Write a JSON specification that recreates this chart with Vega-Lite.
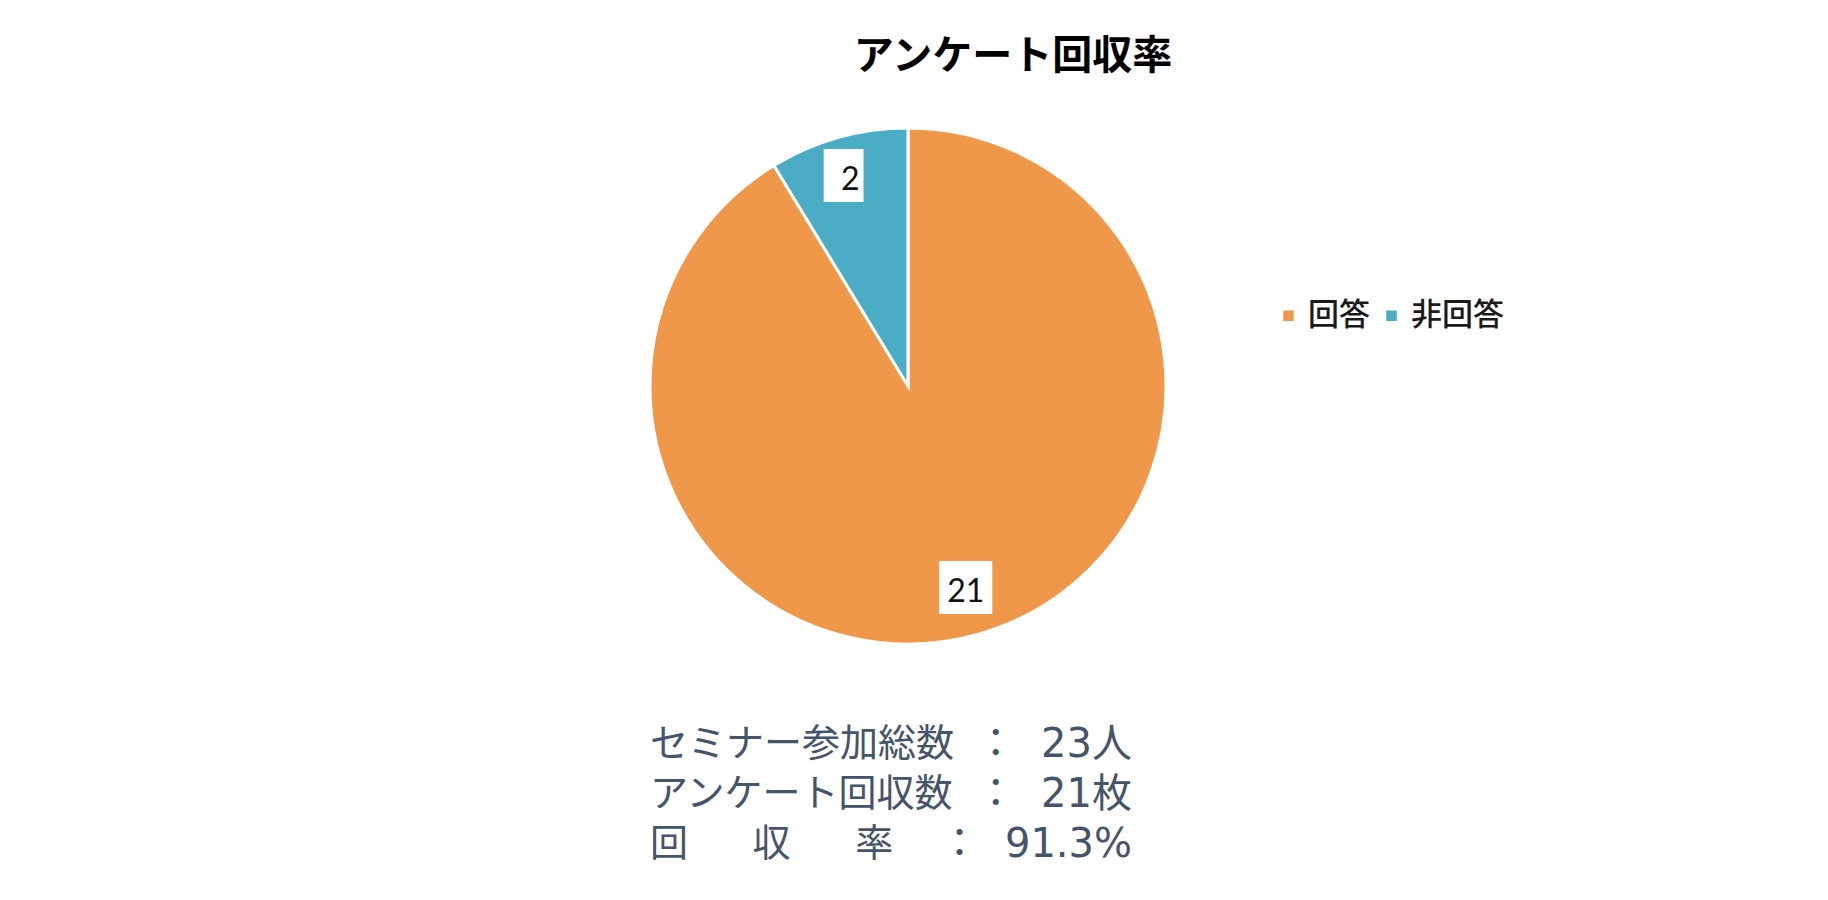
{
  "$schema": "https://vega.github.io/schema/vega-lite/v6.json",
  "background": "white",
  "padding": {"left": 644, "top": 37, "right": 0, "bottom": 0},
  "config": {"view": {"stroke": null}, "font": "Noto Sans CJK JP"},
  "spacing": 70,
  "vconcat": [
    {
      "title": {"text": "アンケート回収率", "fontSize": 40, "fontWeight": "bold", "color": "#000000", "font": "Noto Sans CJK JP", "dx": 105, "offset": 45},
      "width": 516,
      "height": 516,
      "data": {"values": [
        {"回答状況": "回答", "人数": 21},
        {"回答状況": "非回答", "人数": 2}
      ]},
      "encoding": {
        "theta": {"field": "人数", "type": "quantitative", "stack": true},
        "order": {"field": "回答状況", "type": "ordinal", "sort": "ascending"},
        "color": {
          "field": "回答状況", "type": "nominal",
          "scale": {"domain": ["回答", "非回答"], "range": ["#F0984A", "#4BACC6"]},
          "legend": {
            "title": null, "orient": "none", "direction": "horizontal",
            "legendX": 623, "legendY": 172,
            "symbolType": "square", "symbolSize": 110, "symbolStrokeWidth": 0,
            "labelFontSize": 31, "labelColor": "#1a1a1a", "labelFont": "Noto Sans CJK JP", "labelFontWeight": 500,
            "labelOffset": 4, "columnPadding": 6
          }
        }
      },
      "layer": [
        {"mark": {"type": "arc", "stroke": "white", "strokeWidth": 3}},
        {
          "mark": {"type": "text", "radius": 214, "font": "Noto Sans CJK JP", "fontSize": 53},
          "encoding": {
            "text": {"condition": {"test": "datum['人数'] < 10", "value": "▊"}, "value": "█"},
            "color": {"value": "white"}
          }
        },
        {
          "mark": {"type": "text", "radius": 214, "font": "Lato", "fontSize": 32},
          "encoding": {
            "text": {"field": "人数", "type": "quantitative"},
            "color": {"value": "#111111"}
          }
        }
      ]
    },
    {
      "width": 482,
      "height": 150,
      "data": {"values": [
        {"項目": "セミナー参加総数", "値": "：\u00a0\u00a023人"},
        {"項目": "アンケート回収数", "値": "：\u00a0\u00a021枚"},
        {"項目": "回　\u2002\u2009収　\u2002\u2009率", "値": "：\u00a0\u00a091.3%"}
      ]},
      "encoding": {
        "y": {"field": "項目", "type": "nominal", "sort": null, "axis": null, "scale": {"paddingInner": 0, "paddingOuter": 0}}
      },
      "layer": [
        {
          "mark": {"type": "text", "align": "left", "fontSize": 38, "color": "#44546A", "font": "Noto Sans CJK JP"},
          "encoding": {
            "x": {"datum": 0, "type": "quantitative", "scale": {"domain": [0, 100]}, "axis": null},
            "text": {"field": "項目"}
          }
        },
        {
          "mark": {"type": "text", "align": "right", "fontSize": 40, "color": "#44546A", "font": "DejaVu Sans, Noto Sans CJK JP"},
          "encoding": {
            "x": {"datum": 100, "type": "quantitative"},
            "text": {"field": "値"}
          }
        }
      ]
    }
  ]
}
